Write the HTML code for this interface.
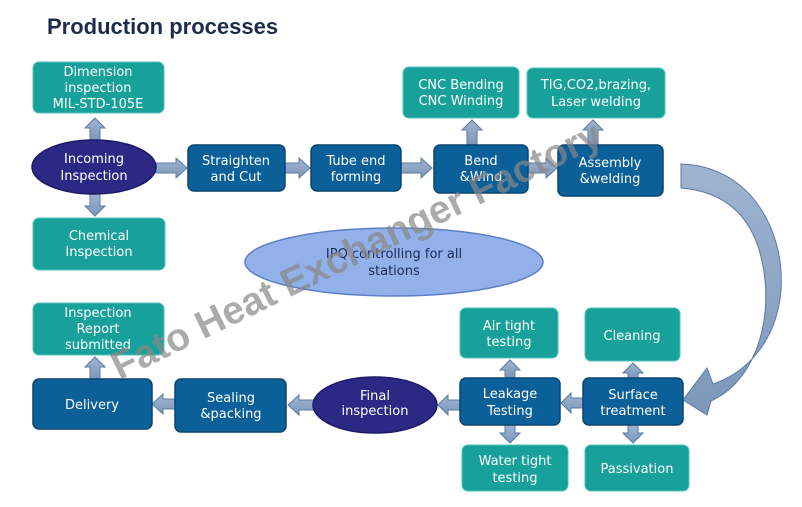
<!DOCTYPE html>
<html><head><meta charset="utf-8"><style>
html,body{margin:0;padding:0;background:#fff;width:802px;height:507px;overflow:hidden}
svg{display:block}
text{font-family:"DejaVu Sans","Liberation Sans",sans-serif;font-size:13px;fill:#fff;text-anchor:middle}
</style></head><body>
<svg width="802" height="507" viewBox="0 0 802 507">
<defs>
<linearGradient id="ar" x1="0" y1="0" x2="0" y2="1"><stop offset="0" stop-color="#9fb4d0"/><stop offset="1" stop-color="#7d97ba"/></linearGradient>
</defs>
<text x="47" y="34" style="font-family:'Liberation Sans',sans-serif;font-size:22px;font-weight:bold;fill:#1f2b4d;text-anchor:start">Production processes</text>

<!-- arrows -->
<g fill="url(#ar)" stroke="#5b7ba3" stroke-width="1">
<polygon points="156,163 176,163 176,158 187,168 176,178 176,173 156,173"/>
<polygon points="285,163 299,163 299,158 310,168 299,178 299,173 285,173"/>
<polygon points="401,163 421,163 421,158 432,168 421,178 421,173 401,173"/>
<polygon points="528,163 546,163 546,158 557,168 546,178 546,173 528,173"/>
<polygon points="90,141 90,128 85,128 95,118 105,128 100,128 100,141"/>
<polygon points="90,193 90,206 85,206 95,216 105,206 100,206 100,193"/>
<polygon points="467,146 467,130 462,130 472,120 482,130 477,130 477,146"/>
<polygon points="588,146 588,130 583,130 593,120 603,130 598,130 598,146"/>
<polygon points="584,398 571,398 571,393 561,403 571,413 571,408 584,408"/>
<polygon points="461,400 448,400 448,395 438,405 448,415 448,410 461,410"/>
<polygon points="314,400 299,400 299,395 288,405 299,415 299,410 314,410"/>
<polygon points="176,399 163,399 163,394 152,404 163,414 163,409 176,409"/>
<polygon points="90,379 90,367 85,367 95,357 105,367 100,367 100,379"/>
<polygon points="505,378 505,370 500,370 510,360 520,370 515,370 515,378"/>
<polygon points="505,425 505,433 500,433 510,443 520,433 515,433 515,425"/>
<polygon points="628,378 628,373 623,373 633,363 643,373 638,373 638,378"/>
<polygon points="628,425 628,433 623,433 633,443 643,433 638,433 638,425"/>
<path d="M681,164 C750,166 785,230 781,290 C777,340 748,372 713,384 L707,368 L683,400 L707,415 L711,401 C752,382 770,330 765,280 C759,222 730,192 681,188 Z"/>
</g>

<!-- IPQ ellipse -->
<ellipse cx="394" cy="262" rx="149" ry="34" fill="#92b1ea" stroke="#5d80c6" stroke-width="1.5"/>
<text x="394" y="258" style="fill:#1a2a55">IPQ controlling for all</text>
<text x="394" y="275" style="fill:#1a2a55">stations</text>

<!-- teal boxes -->
<g fill="#18a19b" stroke="#4fc2bc" stroke-width="1">
<rect x="33" y="62" width="131" height="51" rx="6"/>
<rect x="33" y="218" width="132" height="52" rx="6"/>
<rect x="403" y="67" width="116" height="51" rx="6"/>
<rect x="527" y="68" width="138" height="50" rx="6"/>
<rect x="33" y="303" width="131" height="52" rx="6"/>
<rect x="460" y="308" width="98" height="50" rx="6"/>
<rect x="585" y="308" width="95" height="53" rx="6"/>
<rect x="462" y="445" width="106" height="46" rx="6"/>
<rect x="585" y="445" width="104" height="46" rx="6"/>
</g>
<!-- blue boxes -->
<g fill="#0c6099" stroke="#08456f" stroke-width="1.5">
<rect x="188" y="145" width="97" height="46" rx="6"/>
<rect x="311" y="145" width="90" height="46" rx="6"/>
<rect x="434" y="145" width="94" height="48" rx="6"/>
<rect x="558" y="145" width="105" height="51" rx="6"/>
<rect x="33" y="379" width="119" height="50" rx="6"/>
<rect x="175" y="379" width="111" height="53" rx="6"/>
<rect x="460" y="378" width="100" height="47" rx="6"/>
<rect x="583" y="378" width="100" height="47" rx="6"/>
</g>
<g fill="#2c2985" stroke="#1d1b66" stroke-width="1.5">
<ellipse cx="94" cy="167" rx="62" ry="27"/>
<ellipse cx="375" cy="405" rx="62" ry="28"/>
</g>

<text x="98" y="76">Dimension</text><text x="98" y="92">inspection</text><text x="98" y="108">MIL-STD-105E</text>
<text x="99" y="240">Chemical</text><text x="99" y="256">Inspection</text>
<text x="94" y="163">Incoming</text><text x="94" y="180">Inspection</text>
<text x="236" y="165">Straighten</text><text x="236" y="181">and Cut</text>
<text x="356" y="165">Tube end</text><text x="356" y="181">forming</text>
<text x="481" y="165">Bend</text><text x="481" y="181">&amp;Wind</text>
<text x="610" y="167">Assembly</text><text x="610" y="183">&amp;welding</text>
<text x="461" y="89">CNC Bending</text><text x="461" y="105">CNC Winding</text>
<text x="596" y="89">TIG,CO2,brazing,</text><text x="596" y="106">Laser welding</text>
<text x="98" y="317">Inspection</text><text x="98" y="333">Report</text><text x="98" y="349">submitted</text>
<text x="92" y="409">Delivery</text>
<text x="231" y="402">Sealing</text><text x="231" y="418">&amp;packing</text>
<text x="375" y="400">Final</text><text x="375" y="415">inspection</text>
<text x="510" y="398">Leakage</text><text x="510" y="415">Testing</text>
<text x="633" y="399">Surface</text><text x="633" y="415">treatment</text>
<text x="509" y="330">Air tight</text><text x="509" y="346">testing</text>
<text x="632" y="340">Cleaning</text>
<text x="515" y="465">Water tight</text><text x="515" y="482">testing</text>
<text x="637" y="473">Passivation</text>

<text x="0" y="0" transform="translate(362,262) rotate(-26)" style="font-family:'Liberation Sans',sans-serif;font-size:39px;font-weight:bold;fill:#888;fill-opacity:0.7">Fato Heat Exchanger Factory</text>
</svg>
</body></html>
